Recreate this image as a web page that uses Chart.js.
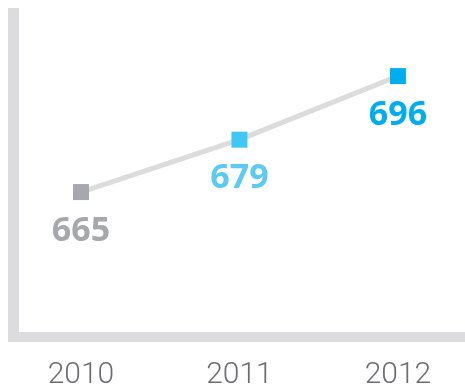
<!DOCTYPE html>
<html>
<head>
<meta charset="utf-8">
<script src="https://cdn.jsdelivr.net/npm/chart.js@4/dist/chart.umd.min.js"></script>
<style>
html,body{margin:0;padding:0;background:#fff;overflow:hidden;}
#wrap{width:465px;height:387px;position:relative;}
canvas{display:block;}
</style>
</head>
<body>
<div id="wrap"><canvas id="c" width="465" height="387"></canvas></div>
<script>
const years = [2010, 2011, 2012];
const values = [665, 679, 696];
const pointColors = ['#a7a8ab', '#40c8f4', '#00aeef'];
const labelColors = ['#a7a8ab', '#5ccaf2', '#00aeef'];

const axisBars = {
  id: 'axisBars',
  beforeDatasetsDraw(chart) {
    const {ctx, chartArea: a} = chart;
    ctx.save();
    ctx.fillStyle = '#dcdcde';
    ctx.fillRect(a.left - 11, a.top, 11, a.bottom - a.top + 10);
    ctx.fillRect(a.left - 11, a.bottom, a.right - a.left + 11, 10);
    ctx.restore();
  }
};

const valueLabels = {
  id: 'valueLabels',
  afterDatasetsDraw(chart) {
    const {ctx} = chart;
    const meta = chart.getDatasetMeta(0);
    ctx.save();
    ctx.font = '700 34px "Open Sans"';
    ctx.textAlign = 'center';
    ctx.textBaseline = 'middle';
    meta.data.forEach((pt, i) => {
      ctx.fillStyle = labelColors[i];
      ctx.fillText(String(values[i]), pt.x, pt.y + 39);
    });
    ctx.restore();
  }
};

new Chart(document.getElementById('c'), {
  type: 'line',
  data: {
    datasets: [{
      data: years.map((y, i) => ({x: y, y: values[i]})),
      borderColor: '#dcdcdc',
      borderWidth: 5,
      pointStyle: 'rect',
      pointRadius: 11.3,
      pointBorderWidth: 0,
      pointBackgroundColor: pointColors,
      pointHoverRadius: 11.3,
      tension: 0,
      clip: false
    }]
  },
  plugins: [axisBars, valueLabels],
  options: {
    responsive: false,
    animation: false,
    events: [],
    layout: {autoPadding: false, padding: {left: 19, top: 8, right: 0, bottom: 0}},
    plugins: {legend: {display: false}, tooltip: {enabled: false}},
    scales: {
      x: {
        type: 'linear',
        min: 2009.609,
        max: 2012.423,
        afterFit(scale) {
          scale.height = 55;
          scale.paddingLeft = 0;
          scale.paddingRight = 0;
        },
        afterBuildTicks(scale) { scale.ticks = years.map(v => ({value: v})); },
        grid: {display: false, drawTicks: false},
        border: {display: false},
        ticks: {
          padding: 25,
          color: '#6d6e71',
          font: {family: 'Roboto', size: 30, weight: 300},
          callback: v => String(v),
          maxRotation: 0,
          autoSkip: false
        }
      },
      y: {
        display: false,
        min: 627.6,
        max: 714.2
      }
    }
  }
});
</script>
</body>
</html>
